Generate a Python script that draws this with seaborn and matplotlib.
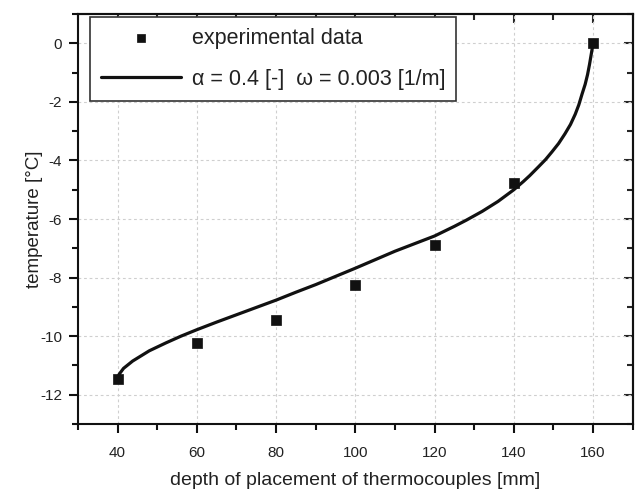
import matplotlib
matplotlib.use('Agg')
import matplotlib.pyplot as plt
from matplotlib.ticker import MultipleLocator
import seaborn as sns

# experimental data
depth_exp = [40, 60, 80, 100, 120, 140, 160]
temp_exp = [-11.45, -10.25, -9.45, -8.25, -6.88, -4.78, 0.0]

# model curve
depth_fit = [40.0, 40.4, 41.5, 43.8, 48.0, 52.2, 56.0, 60.0, 65.0, 70.0, 75.0, 80.0,
             85.0, 90.0, 95.0, 100.0, 105.0, 110.0, 115.0, 120.0, 125.0, 128.0,
             132.0, 136.0, 140.0, 142.4, 144.0, 146.2, 148.0, 149.6, 151.3, 152.9,
             154.3, 155.5, 156.4, 157.2, 158.0, 158.6, 159.1, 159.5, 159.8, 160.0]
temp_fit = [-11.42, -11.3, -11.1, -10.85, -10.5, -10.23, -10.0, -9.78, -9.52, -9.27,
            -9.02, -8.77, -8.5, -8.24, -7.96, -7.68, -7.39, -7.1, -6.84, -6.58,
            -6.25, -6.04, -5.74, -5.4, -5.0, -4.72, -4.52, -4.22, -3.97, -3.71,
            -3.42, -3.09, -2.77, -2.42, -2.1, -1.74, -1.4, -1.07, -0.72, -0.4,
            -0.16, 0.0]

x_label = "depth of placement of thermocouples [mm]"
y_label = "temperature [°C]"
leg_exp = "experimental data"
leg_fit = "α = 0.4 [-]  ω = 0.003 [1/m]"

sns.set_style('ticks')
plt.rcParams['font.family'] = ['Liberation Sans', 'DejaVu Sans']
plt.rcParams['axes.unicode_minus'] = False
txt = '#222222'

fig = plt.figure(figsize=(6.35, 4.9), dpi=100)
ax = fig.add_axes([0.1228, 0.1347, 0.8736, 0.8367])

sns.lineplot(x=depth_fit, y=temp_fit, sort=False, color='#111111', lw=2.3,
             ax=ax, label=leg_fit, zorder=3)
sns.scatterplot(x=depth_exp, y=temp_exp, marker='s', s=48, color='#111111',
                edgecolor='#111111', linewidth=0.5, ax=ax, zorder=4, label=leg_exp)

ax.set_xlim(30, 170)
ax.set_ylim(-13, 1)
ax.xaxis.set_major_locator(MultipleLocator(20))
ax.xaxis.set_minor_locator(MultipleLocator(10))
ax.yaxis.set_major_locator(MultipleLocator(2))
ax.yaxis.set_minor_locator(MultipleLocator(1))

ax.grid(True, which='major', linestyle=(0, (2.5, 2.5)), color='#cfcfcf', lw=0.8)
for s in ax.spines.values():
    s.set_linewidth(1.5)
    s.set_color('#111111')
    s.set_visible(True)

ax.tick_params(which='major', direction='out', length=6.5, width=1.5,
               labelsize=11, labelcolor=txt, color='#111111')
ax.tick_params(axis='x', which='major', pad=9)
ax.tick_params(axis='y', which='major', pad=5)
ax.tick_params(which='minor', direction='out', length=4, width=1.5, color='#111111')

secx = ax.secondary_xaxis('top')
secx.xaxis.set_major_locator(MultipleLocator(20))
secx.xaxis.set_minor_locator(MultipleLocator(10))
secx.tick_params(which='major', direction='in', length=6.5, width=1.5, labeltop=False)
secx.tick_params(which='minor', direction='in', length=4, width=1.5)
secx.spines['top'].set_linewidth(1.5)
secy = ax.secondary_yaxis('right')
secy.yaxis.set_major_locator(MultipleLocator(2))
secy.yaxis.set_minor_locator(MultipleLocator(1))
secy.tick_params(which='major', direction='in', length=6.5, width=1.5, labelright=False)
secy.tick_params(which='minor', direction='in', length=4, width=1.5)
secy.spines['right'].set_linewidth(1.5)

ax.set_xlabel(x_label, fontsize=14, color=txt, labelpad=9)
ax.set_ylabel(y_label, fontsize=13.5, color=txt)
ax.yaxis.set_label_coords(-0.063, 0.5)

handles, labels = ax.get_legend_handles_labels()
order = [labels.index(leg_exp), labels.index(leg_fit)]
leg = ax.legend([handles[i] for i in order], [labels[i] for i in order],
                loc='upper left', bbox_to_anchor=(0.0216, 0.9927), borderaxespad=0,
                fontsize=15.5, handlelength=3.75, handletextpad=0.5, labelspacing=0.93,
                borderpad=0.5, frameon=True, fancybox=False, markerscale=0.8)
leg.get_frame().set_edgecolor('#333333')
leg.get_frame().set_linewidth(1.2)
leg.get_frame().set_alpha(1)
for t in leg.get_texts():
    t.set_color(txt)

fig.savefig('out.png', dpi=100)
